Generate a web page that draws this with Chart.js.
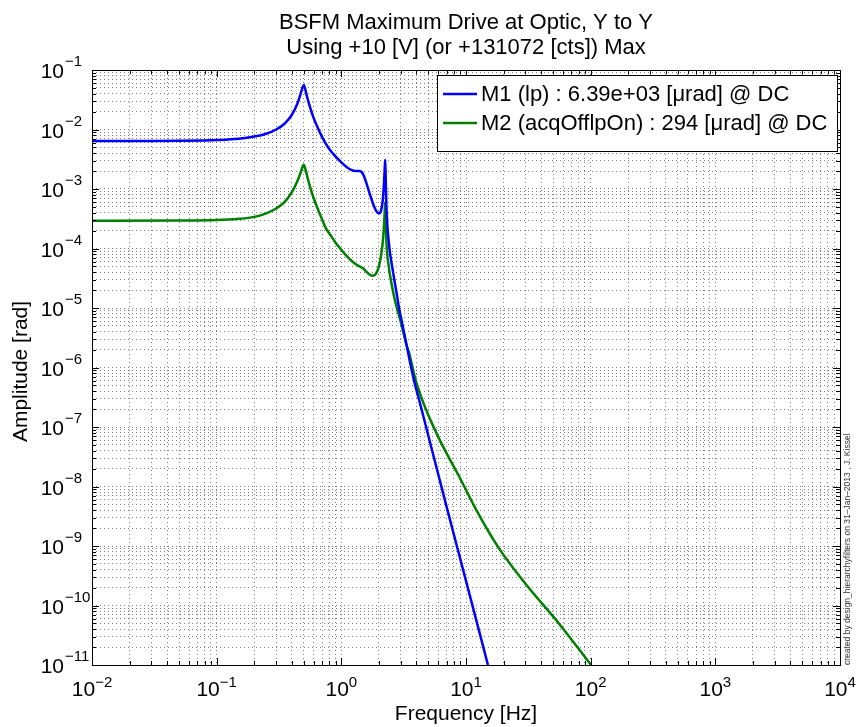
<!DOCTYPE html>
<html>
<head>
<meta charset="utf-8">
<title>BSFM Maximum Drive at Optic, Y to Y</title>
<script src="https://cdn.jsdelivr.net/npm/chart.js@4.4.0/dist/chart.umd.min.js"></script>
<style>
    html, body { margin: 0; padding: 0; background: #fff; }
    #wrap { width: 859px; height: 727px; }
</style>
</head>
<body>
<div id="wrap"><canvas id="ampChart" width="859" height="727"></canvas></div>
<script>
const titleLines = ['BSFM Maximum Drive at Optic, Y to Y', 'Using +10 [V] (or +131072 [cts]) Max'];
const xAxisTitle = 'Frequency [Hz]';
const yAxisTitle = 'Amplitude [rad]';
const stampText = 'created by design_hierarchyfilters on 31\u2013Jan\u20132013 , J. Kissel';

// decade exponents for the tick labels
const xTickExps = [-2, -1, 0, 1, 2, 3, 4];
const yTickExps = [-11, -10, -9, -8, -7, -6, -5, -4, -3, -2, -1];

const m1Label = 'M1 (lp) : 6.39e+03 [\u03bcrad] @ DC';
const m1Freq = [0.01, 0.03, 0.05, 0.08, 0.1, 0.15, 0.2, 0.25, 0.3, 0.35, 0.4, 0.44, 0.47, 0.49, 0.5,
    0.51, 0.53, 0.56, 0.6, 0.65, 0.7, 0.75, 0.8, 0.9, 1.0, 1.1, 1.2, 1.3, 1.4, 1.5, 1.6, 1.7, 1.8,
    1.9, 2.0, 2.08, 2.15, 2.2, 2.23, 2.25, 2.27, 2.3, 2.4, 2.6, 2.8, 2.9, 3.0, 3.35, 3.5, 3.82, 4.0,
    4.2, 5.0, 7.0, 10, 15];
const m1Amp = [6.39e-3, 6.40e-3, 6.45e-3, 6.55e-3, 6.65e-3, 7.0e-3, 7.6e-3, 8.5e-3, 1.0e-2, 1.25e-2,
    1.75e-2, 2.6e-2, 3.9e-2, 5.2e-2, 5.6e-2, 5.0e-2, 3.6e-2, 2.4e-2, 1.55e-2, 1.05e-2, 7.5e-3, 5.8e-3,
    4.7e-3, 3.5e-3, 2.8e-3, 2.35e-3, 2.1e-3, 2.0e-3, 2.0e-3, 1.75e-3, 1.2e-3, 8.0e-4, 5.6e-4, 4.3e-4,
    3.9e-4, 4.3e-4, 6.5e-4, 1.3e-3, 2.3e-3, 3.1e-3, 1.5e-3, 5.0e-4, 1.3e-4, 4.0e-5, 1.6e-5, 1.0e-5,
    7.1e-6, 2.3e-6, 1.45e-6, 6.2e-7, 4.2e-7, 2.9e-7, 7.0e-8, 4.5e-9, 2.6e-10, 1.0e-11];

const m2Label = 'M2 (acqOfflpOn) : 294 [\u03bcrad] @ DC';
const m2Freq = [0.01, 0.05, 0.1, 0.15, 0.2, 0.25, 0.3, 0.35, 0.4, 0.44, 0.47, 0.49, 0.5, 0.51, 0.53,
    0.56, 0.6, 0.65, 0.7, 0.75, 0.8, 0.9, 1.0, 1.1, 1.2, 1.3, 1.4, 1.5, 1.6, 1.7, 1.8, 1.9, 2.0, 2.1,
    2.17, 2.22, 2.25, 2.27, 2.3, 2.4, 2.5, 2.7, 3.0, 3.35, 3.5, 3.94, 4.6, 5.5, 6.44, 8.77, 11.9, 18.4,
    30.1, 55.6, 100.8];
const m2Amp = [2.94e-4, 2.95e-4, 3.0e-4, 3.15e-4, 3.4e-4, 3.9e-4, 4.7e-4, 6.0e-4, 8.8e-4, 1.3e-3,
    1.85e-3, 2.4e-3, 2.55e-3, 2.3e-3, 1.7e-3, 1.1e-3, 7.0e-4, 4.5e-4, 3.1e-4, 2.2e-4, 1.8e-4, 1.25e-4,
    9.5e-5, 7.5e-5, 6.3e-5, 5.5e-5, 5.0e-5, 4.6e-5, 4.0e-5, 3.6e-5, 3.5e-5, 3.8e-5, 5.0e-5, 8.5e-5,
    1.6e-4, 3.5e-4, 6.0e-4, 3.5e-4, 1.3e-4, 5.0e-5, 2.9e-5, 1.3e-5, 5.8e-6, 2.3e-6, 1.75e-6, 6.2e-7,
    2.4e-7, 1.0e-7, 5.0e-8, 1.5e-8, 4.3e-9, 9.1e-10, 2.3e-10, 5.0e-11, 1.0e-11];

const FONT = '"Liberation Sans", Arial, Helvetica, sans-serif';

function toPoints(freq, amp) {
    return freq.map((f, i) => ({ x: f, y: amp[i] }));
}

function isDecade(v) {
    const l = Math.log10(v);
    return Math.abs(l - Math.round(l)) < 1e-9;
}

// 1..9 x 10^n for every decade in range, like MATLAB's minor grid
function logTicks(exps) {
    const ticks = [];
    for (let e = exps[0]; e < exps[exps.length - 1]; e++) {
        for (let m = 1; m <= 9; m++) {
            ticks.push({ value: Number((m * Math.pow(10, e)).toPrecision(12)) });
        }
    }
    ticks.push({ value: Math.pow(10, exps[exps.length - 1]) });
    return ticks;
}

function supStr(e) {
    return e < 0 ? '\u2212' + Math.abs(e) : String(e);
}

const matlabAxes = {
    id: 'matlabAxes',
    afterDraw(chart) {
        const { ctx, chartArea: a } = chart;
        const xs = chart.scales.x;
        const ys = chart.scales.y;
        ctx.save();

        // inner tick marks on all four sides
        ctx.strokeStyle = '#000';
        ctx.lineWidth = 1;
        ctx.beginPath();
        xs.ticks.forEach(t => {
            const px = Math.round(xs.getPixelForValue(t.value)) + 0.5;
            const len = isDecade(t.value) ? 7 : 4;
            ctx.moveTo(px, a.bottom); ctx.lineTo(px, a.bottom - len);
            ctx.moveTo(px, a.top); ctx.lineTo(px, a.top + len);
        });
        ys.ticks.forEach(t => {
            const py = Math.round(ys.getPixelForValue(t.value)) + 0.5;
            const len = isDecade(t.value) ? 7 : 4;
            ctx.moveTo(a.left, py); ctx.lineTo(a.left + len, py);
            ctx.moveTo(a.right, py); ctx.lineTo(a.right - len, py);
        });
        ctx.stroke();
        ctx.strokeRect(Math.round(a.left) + 0.5, Math.round(a.top) + 0.5,
            Math.round(a.right - a.left), Math.round(a.bottom - a.top));

        // tick labels 10^n
        ctx.fillStyle = '#000';
        ctx.textBaseline = 'alphabetic';
        const baseFont = `21px ${FONT}`;
        const supFont = `15px ${FONT}`;
        xTickExps.forEach(e => {
            const px = xs.getPixelForValue(Math.pow(10, e));
            ctx.font = baseFont;
            const w1 = ctx.measureText('10').width;
            ctx.font = supFont;
            const w2 = ctx.measureText(supStr(e)).width;
            const x0 = px - (w1 + w2) / 2;
            ctx.textAlign = 'left';
            ctx.font = baseFont;
            ctx.fillText('10', x0, a.bottom + 31);
            ctx.font = supFont;
            ctx.fillText(supStr(e), x0 + w1, a.bottom + 22);
        });
        yTickExps.forEach(e => {
            const py = ys.getPixelForValue(Math.pow(10, e));
            ctx.font = baseFont;
            ctx.textAlign = 'right';
            ctx.fillText('10', 64, py + 8);
            ctx.font = supFont;
            ctx.textAlign = 'left';
            ctx.fillText(supStr(e), 65, py - 4);
        });

        // titles
        const cx = (a.left + a.right) / 2;
        ctx.textAlign = 'center';
        ctx.font = `22px ${FONT}`;
        ctx.fillText(titleLines[0], cx, 29);
        ctx.fillText(titleLines[1], cx, 54);
        ctx.font = `21px ${FONT}`;
        ctx.fillText(xAxisTitle, cx, 720);
        ctx.save();
        ctx.translate(27, (a.top + a.bottom) / 2 + 4);
        ctx.rotate(-Math.PI / 2);
        ctx.fillText(yAxisTitle, 0, 0);
        ctx.restore();

        // stamp on the right edge
        ctx.save();
        ctx.fillStyle = '#333';
        ctx.font = `8.5px ${FONT}`;
        ctx.translate(a.right + 8, a.bottom);
        ctx.rotate(-Math.PI / 2);
        ctx.textAlign = 'left';
        ctx.textBaseline = 'middle';
        ctx.fillText(stampText, 0, 0);
        ctx.restore();

        // legend box, top right inside the axes
        ctx.font = `22px ${FONT}`;
        const sets = chart.data.datasets;
        const textW = Math.max(...sets.map(d => ctx.measureText(d.label).width));
        const boxW = 6 + 34 + 4 + textW + 10;
        const boxR = Math.round(a.right) - 3;
        const boxL = boxR - Math.round(boxW);
        const boxT = Math.round(a.top) + 5;
        const rowH = 29;
        const boxH = 10 + rowH * sets.length + 8;
        ctx.fillStyle = '#fff';
        ctx.fillRect(boxL, boxT, boxR - boxL, boxH);
        ctx.strokeStyle = '#000';
        ctx.lineWidth = 1;
        ctx.strokeRect(boxL + 0.5, boxT + 0.5, boxR - boxL, boxH);
        sets.forEach((d, i) => {
            const ry = boxT + 19 + i * rowH;
            ctx.strokeStyle = d.borderColor;
            ctx.lineWidth = 2.5;
            ctx.beginPath();
            ctx.moveTo(boxL + 6, ry);
            ctx.lineTo(boxL + 40, ry);
            ctx.stroke();
            ctx.fillStyle = '#000';
            ctx.textAlign = 'left';
            ctx.textBaseline = 'middle';
            ctx.fillText(d.label, boxL + 44, ry + 1);
        });
        ctx.restore();
    }
};

const gridOpts = {
    color: 'rgba(0, 0, 0, 0.5)',
    lineWidth: 1,
    drawTicks: false
};

const ctx = document.getElementById('ampChart').getContext('2d');
const chart = new Chart(ctx, {
    type: 'line',
    data: {
        datasets: [
            {
                label: m1Label,
                data: toPoints(m1Freq, m1Amp),
                borderColor: '#0000ff',
                borderWidth: 2.5,
                pointRadius: 0,
                cubicInterpolationMode: 'monotone',
                fill: false
            },
            {
                label: m2Label,
                data: toPoints(m2Freq, m2Amp),
                borderColor: '#008000',
                borderWidth: 2.5,
                pointRadius: 0,
                cubicInterpolationMode: 'monotone',
                fill: false
            }
        ]
    },
    options: {
        responsive: false,
        animation: false,
        layout: {
            padding: { left: 92, right: 19, top: 70, bottom: 62 }
        },
        plugins: {
            legend: { display: false },
            title: { display: false },
            tooltip: { enabled: false }
        },
        scales: {
            x: {
                type: 'logarithmic',
                min: 0.01,
                max: 10000,
                afterBuildTicks: scale => { scale.ticks = logTicks(xTickExps); },
                ticks: { display: false },
                grid: gridOpts,
                border: { display: false, dash: [1, 3] }
            },
            y: {
                type: 'logarithmic',
                min: 1e-11,
                max: 1e-1,
                afterBuildTicks: scale => { scale.ticks = logTicks(yTickExps); },
                ticks: { display: false },
                grid: gridOpts,
                border: { display: false, dash: [1, 3] }
            }
        }
    },
    plugins: [matlabAxes]
});
</script>
</body>
</html>
